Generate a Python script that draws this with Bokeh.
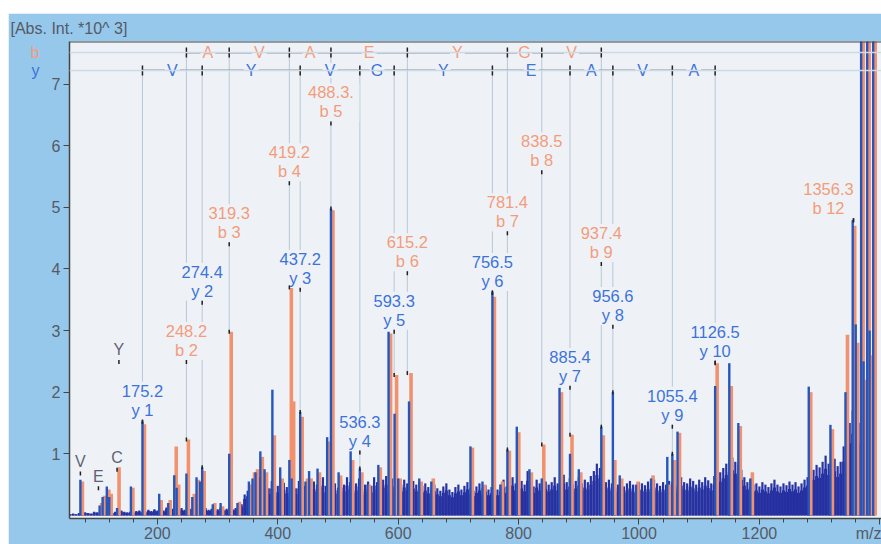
import numpy as np
from bokeh.plotting import figure
from bokeh.models import Range1d, Span, ColumnDataSource, FixedTicker, Spacer, LinearAxis
from bokeh.layouts import column, row
from bokeh.core.properties import value
from bokeh.embed import file_html
from bokeh.resources import INLINE

# ---------------- data ----------------
peak_mz = [72.1, 104, 109, 116, 120, 133, 156, 175.2, 203, 218,
           228, 232, 248.2, 258, 265, 271, 274.4, 292, 305, 319.3,
           333, 352, 358, 363, 371, 378, 391, 404, 419.2, 423,
           437.2, 446, 452, 466, 482, 488.3, 501, 521, 536.3, 549,
           567, 584, 594, 600, 618, 635, 655, 720, 740, 756.5,
           770, 781.4, 797, 818, 838.5, 868, 885.4, 900, 937.4, 956.6,
           968, 995, 1020, 1047, 1055.4, 1064, 1126.5, 1150, 1165, 1185,
           1282, 1318, 1343, 1355, 1360, 1369, 1373, 1379, 1383, 1389]
peak_blue = [0.58, 0.16, 0.30, 0.47, 0.30, 0.12, 0.47, 1.52, 0.35, 0.20,
             0.65, 0.45, 0.68, 0.30, 0.62, 0.55, 0.78, 0.18, 0.20, 1.00,
             0.20, 0.55, 0.60, 0.70, 1.04, 0.75, 2.04, 0.78, 0.90, 0.60,
             1.68, 0.55, 0.72, 0.76, 1.27, 4.98, 0.70, 1.04, 0.76, 0.50,
             0.82, 2.98, 1.65, 0.60, 1.85, 0.60, 0.55, 1.12, 0.55, 3.62,
             0.50, 1.07, 1.44, 0.75, 0.60, 2.07, 1.00, 0.75, 1.44, 2.00,
             0.65, 0.50, 0.60, 0.95, 1.00, 1.36, 2.10, 2.47, 1.50, 0.60,
             2.09, 1.47, 2.00, 4.79, 3.10, 10.0, 2.50, 10.0, 3.00, 10.0]
peak_orange = [0.55, 0.20, 0.32, 0.42, 0.35, 0.78, 0.45, 1.48, 0.25, 0.25,
               1.12, 0.50, 1.23, 0.35, 0.58, 0.50, 0.72, 0.20, 0.15, 2.98,
               0.22, 0.50, 0.70, 0.75, 0.95, 0.70, 1.30, 0.60, 3.70, 1.85,
               1.60, 0.60, 0.60, 0.70, 1.20, 4.95, 0.65, 0.90, 0.70, 0.50,
               0.78, 2.95, 2.28, 0.60, 2.31, 0.55, 0.60, 1.10, 0.50, 3.55,
               0.55, 1.05, 1.35, 0.70, 1.15, 2.00, 1.31, 0.70, 1.30, 0.90,
               0.60, 0.55, 0.65, 0.50, 0.90, 1.34, 2.47, 2.10, 1.45, 0.70,
               2.00, 1.40, 2.93, 4.70, 2.80, 10.0, 2.20, 10.0, 2.60, 10.0]

# baseline noise, one value every 5 m/z starting at m/z 55
noise_start, noise_step = 55, 5
noise_h = [
    0.02, 0.03, 0.02, 0.04, 0.03, 0.05, 0.04, 0.03, 0.06, 0.05, 0.08, 0.06, 0.05, 0.07, 0.04, 0.06, 0.05, 0.08, 0.06, 0.05,
    0.06, 0.05, 0.07, 0.08, 0.05, 0.06, 0.09, 0.07, 0.10, 0.08, 0.11, 0.08, 0.13, 0.09, 0.11, 0.15, 0.10, 0.12, 0.09, 0.14,
    0.11, 0.09, 0.13, 0.10, 0.08, 0.12, 0.09, 0.11, 0.08, 0.10, 0.13, 0.09, 0.11, 0.14, 0.10, 0.12, 0.15, 0.18, 0.34, 0.40,
    0.46, 0.55, 0.48, 0.62, 0.66, 0.52, 0.44, 0.56, 0.40, 0.48, 0.42, 0.53, 0.46, 0.38, 0.50, 0.44, 0.56, 0.40, 0.48, 0.52,
    0.44, 0.55, 0.50, 0.58, 0.62, 0.48, 0.56, 0.64, 0.52, 0.45, 0.58, 0.50, 0.62, 0.54, 0.47, 0.52, 0.60, 0.43, 0.50, 0.55,
    0.48, 0.62, 0.54, 0.50, 0.58, 0.64, 0.52, 0.60, 0.47, 0.54, 0.50, 0.58, 0.52, 0.47, 0.56, 0.50, 0.54, 0.48, 0.52, 0.46,
    0.42, 0.50, 0.44, 0.40, 0.47, 0.52, 0.42, 0.38, 0.46, 0.50, 0.42, 0.48, 0.54, 0.44, 0.40, 0.47, 0.52, 0.44, 0.49, 0.42,
    0.46, 0.52, 0.42, 0.50, 0.58, 0.47, 0.54, 0.62, 0.52, 0.48, 0.56, 0.50, 0.72, 0.54, 0.47, 0.58, 0.52, 0.48, 0.55, 0.50,
    0.54, 0.62, 0.52, 0.58, 0.66, 0.54, 0.60, 0.50, 0.56, 0.62, 0.52, 0.58, 0.54, 0.64, 0.72, 0.84, 0.77, 0.62, 0.54, 0.58,
    0.52, 0.58, 0.50, 0.54, 0.47, 0.52, 0.56, 0.50, 0.47, 0.54, 0.52, 0.49, 0.55, 0.50, 0.58, 0.52, 0.48, 0.54, 0.50, 0.56,
    0.54, 0.50, 0.58, 0.62, 0.54, 0.52, 0.60, 0.56, 0.50, 0.58, 0.54, 0.62, 0.57, 0.52, 0.64, 0.60, 0.70, 0.77, 0.84, 0.90,
    0.94, 0.87, 0.82, 0.74, 0.62, 0.54, 0.58, 0.50, 0.52, 0.47, 0.54, 0.50, 0.46, 0.52, 0.58, 0.50, 0.47, 0.52, 0.49, 0.55,
    0.50, 0.54, 0.47, 0.52, 0.58, 0.62, 0.66, 0.74, 0.82, 0.78, 0.87, 0.97, 0.84, 1.02, 0.92, 0.80, 0.87, 1.12, 1.30, 1.50,
    1.70, 1.90, 1.50, 1.80, 1.60, 2.00, 1.70, 1.40]
noise_mz = [noise_start + i * noise_step for i in range(len(noise_h))]

# annotated fragment ions
ion_names = ["y 1", "b 2", "y 2", "b 3", "b 4", "y 3", "b 5", "y 4", "y 5", "b 6",
             "y 6", "b 7", "b 8", "y 7", "b 9", "y 8", "y 9", "y 10", "b 12"]
ion_mz = [175.2, 248.2, 274.4, 319.3, 419.2, 437.2, 488.3, 536.3, 593.3, 615.2,
          756.5, 781.4, 838.5, 885.4, 937.4, 956.6, 1055.4, 1126.5, 1356.3]
ion_label_h = [1.52, 2.49, 3.45, 4.40, 5.39, 3.66, 6.36, 1.02, 2.98, 3.93,
               3.61, 4.58, 5.57, 2.07, 4.08, 3.06, 1.44, 2.48, 4.79]
ion_peak_h = [1.52, 1.23, 0.78, 2.98, 3.70, 1.68, 4.98, 0.76, 2.28, 2.31,
              3.62, 1.07, 1.15, 1.31, 1.44, 2.00, 1.00, 2.47, 4.79]

# sequence ladders
b_ladder_mz = [248.2, 319.3, 419.2, 488.3, 615.2, 781.4, 838.5, 937.4]
b_ladder_aa = ["A", "V", "A", "E", "Y", "G", "V"]
y_ladder_mz = [175.2, 274.4, 437.2, 536.3, 593.3, 756.5, 885.4, 956.6, 1055.4, 1126.5]
y_ladder_aa = ["V", "Y", "V", "G", "Y", "E", "A", "V", "A"]

# immonium ions
imm_names = ["V", "E", "C", "Y"]
imm_mz = [72.1, 102.1, 133.0, 136.1]
imm_h = [0.68, 0.44, 0.74, 2.49]

x_ticks = [200, 400, 600, 800, 1000, 1200, 1400]
x_tick_labels = ["200", "400", "600", "800", "1000", "1200", "m/z"]
y_ticks = [1, 2, 3, 4, 5, 6, 7]
title_text = "[Abs. Int. *10^ 3]"

# ---------------- layout / style ----------------
FONT = "Liberation Sans"
OUTER = "#96C8EB"
BG = "#EEF2F6"
BLUE_TXT = "#3D72DA"
ORANGE_TXT = "#F39C7C"
GREY_TXT = "#555A66"

W, H = 873, 531
ML, MR, MT, MB = 61, 0, 28, 25
FW, FH = W - ML - MR, H - MT - MB
X0, X1 = 54.0, 54.0 + FW / 0.602
Y0, Y1 = -0.05, 7.69
MZ_PX = (X1 - X0) / FW       # m/z per pixel
I_PX = (Y1 - Y0) / FH        # intensity per pixel
B_ROW, Y_ROW = 7.51, 7.22

p = figure(width=W, height=H, x_range=Range1d(X0, X1), y_range=Range1d(Y0, Y1),
           output_backend="svg", toolbar_location=None,
           min_border_left=ML, min_border_right=MR, min_border_top=MT, min_border_bottom=MB,
           background_fill_color=BG, border_fill_color=OUTER, outline_line_color=None)
p.xgrid.visible = False
p.ygrid.visible = False

p.title.text = title_text
p.title.align = "left"
p.title.offset = -59
p.title.standoff = 9
p.title.text_font = FONT
p.title.text_font_size = "16px"
p.title.text_font_style = "normal"
p.title.text_color = GREY_TXT

xa = p.xaxis[0]
xa.ticker = FixedTicker(ticks=x_ticks, minor_ticks=list(range(40, 1400, 40)))
xa.major_label_overrides = {t: s for t, s in zip(x_ticks, x_tick_labels)}
xa.axis_line_color = "#444444"
xa.axis_line_width = 1.5
xa.major_tick_line_color = "#444444"
xa.minor_tick_line_color = "#444444"
xa.major_tick_out, xa.major_tick_in = 6, 0
xa.minor_tick_out, xa.minor_tick_in = 4, 0
xa.major_label_text_font = FONT
xa.major_label_text_font_size = "16px"
xa.major_label_text_color = GREY_TXT
xa.major_label_standoff = 0

ya = p.yaxis[0]
ya.ticker = FixedTicker(ticks=y_ticks)
ya.axis_line_color = "#444444"
ya.axis_line_width = 1.5
ya.major_tick_line_color = "#444444"
ya.minor_tick_line_color = None
ya.major_tick_out, ya.major_tick_in = 6, 0
ya.major_label_standoff = 3
ya.major_label_text_font = FONT
ya.major_label_text_font_size = "16px"
ya.major_label_text_color = GREY_TXT

# ion-series keys "b" / "y" on the left, as label-only axes
for loc, txt, col, stand in [(B_ROW, "b", ORANGE_TXT, 9), (Y_ROW, "y", BLUE_TXT, -12)]:
    ax = LinearAxis(ticker=FixedTicker(ticks=[loc], minor_ticks=[]),
                    major_label_overrides={loc: txt})
    ax.axis_line_color = None
    ax.major_tick_line_color = None
    ax.minor_tick_line_color = None
    ax.major_tick_out, ax.major_tick_in = 0, 0
    ax.major_label_standoff = stand
    ax.major_label_text_font = FONT
    ax.major_label_text_font_size = "16px"
    ax.major_label_text_color = col
    p.add_layout(ax, "left")

p.add_layout(Span(location=Y1, dimension="width", line_color="#444444", line_width=2))
p.add_layout(Span(location=B_ROW, dimension="width", line_color="#CCD9E6", line_width=1.5))
p.add_layout(Span(location=Y_ROW, dimension="width", line_color="#CCD9E6", line_width=1.5))

# guide lines from ladder rows down to the peaks
gx, gtop, gbot = [], [], []
for m, ph in zip(ion_mz, ion_peak_h):
    if m in b_ladder_mz:
        r = B_ROW
    elif m in y_ladder_mz:
        r = Y_ROW
    else:
        continue
    gx.append(m); gtop.append(r); gbot.append(ph)
p.segment(x0=gx, y0=gtop, x1=gx, y1=gbot, line_color="#B7C7D8", line_width=1)

# noise band: dense lower part plus spiky strokes
p.vbar(x=noise_mz, top=[h * 0.78 for h in noise_h], bottom=0, width=noise_step,
       fill_color="#232A94", line_color=None)
p.segment(x0=noise_mz, y0=0, x1=noise_mz, y1=noise_h, line_color="#2733A4", line_width=2.2)

# spectrum sticks
or_dx = 2.0 * MZ_PX
p.segment(x0=[m + or_dx for m in peak_mz], y0=0, x1=[m + or_dx for m in peak_mz], y1=peak_orange,
          line_color="#F2916E", line_width=3.6)
p.segment(x0=peak_mz, y0=0, x1=peak_mz, y1=peak_blue, line_color="#2456BE", line_width=2.4)

# label backgrounds and texts
ion_dx = [-25 if n == "b 12" else 0 for n in ion_names]
ion_vals = ["%.1f" % m for m in ion_mz]
ion_vals[6] = "488.3."
ion_col = [ORANGE_TXT if n.startswith("b") else BLUE_TXT for n in ion_names]
rect_w = [max(len(v), len(n)) * 8.8 + 4 for v, n in zip(ion_vals, ion_names)]
p.rect(x=[m + d * MZ_PX for m, d in zip(ion_mz, ion_dx)],
       y=[h + 21 * I_PX for h in ion_label_h], width=rect_w, height=38,
       width_units="screen", height_units="screen", fill_color=BG, line_color=None)
src = ColumnDataSource(dict(x=ion_mz, y=ion_label_h, v=ion_vals, n=ion_names, c=ion_col, dx=ion_dx))
p.text(x="x", y="y", text="v", source=src, x_offset="dx", y_offset=-31, text_color="c",
       text_align="center", text_baseline="middle", text_font=value(FONT), text_font_size="16.5px")
p.text(x="x", y="y", text="n", source=src, x_offset="dx", y_offset=-12, text_color="c",
       text_align="center", text_baseline="middle", text_font=value(FONT), text_font_size="16.5px")

p.text(x=imm_mz, y=imm_h, text=imm_names, y_offset=-12, text_color="#5E6272",
       text_align="center", text_baseline="middle", text_font=value(FONT), text_font_size="16px")

# small black markers
mk_x = ion_mz + ion_mz + imm_mz
mk_y = ion_label_h + ion_peak_h + imm_h
p.scatter(x=mk_x, y=mk_y, marker="dash", angle=np.pi / 2, size=4, line_color="#222222", line_width=1.5)

# ladders
for lad_mz, aa, r, col in [(b_ladder_mz, b_ladder_aa, B_ROW, ORANGE_TXT),
                           (y_ladder_mz, y_ladder_aa, Y_ROW, BLUE_TXT)]:
    p.segment(x0=[lad_mz[0]], y0=[r], x1=[lad_mz[-1]], y1=[r], line_color="#222222", line_width=1.3)
    p.scatter(x=lad_mz, y=[r] * len(lad_mz), marker="dash", angle=np.pi / 2, size=10,
              line_color="#222222", line_width=1.5)
    mids = [(a + b) / 2 for a, b in zip(lad_mz[:-1], lad_mz[1:])]
    p.rect(x=mids, y=[r] * len(mids), width=15, height=15, width_units="screen", height_units="screen",
           fill_color=BG, line_color=None)
    p.text(x=mids, y=[r] * len(mids), text=aa, text_color=col, text_align="center",
           text_baseline="middle", text_font=value(FONT), text_font_size="16px")

layout = column(Spacer(height=13, width=W + 8), row(Spacer(width=8, height=H), p))
open("out.html", "w").write(file_html(layout, INLINE))
